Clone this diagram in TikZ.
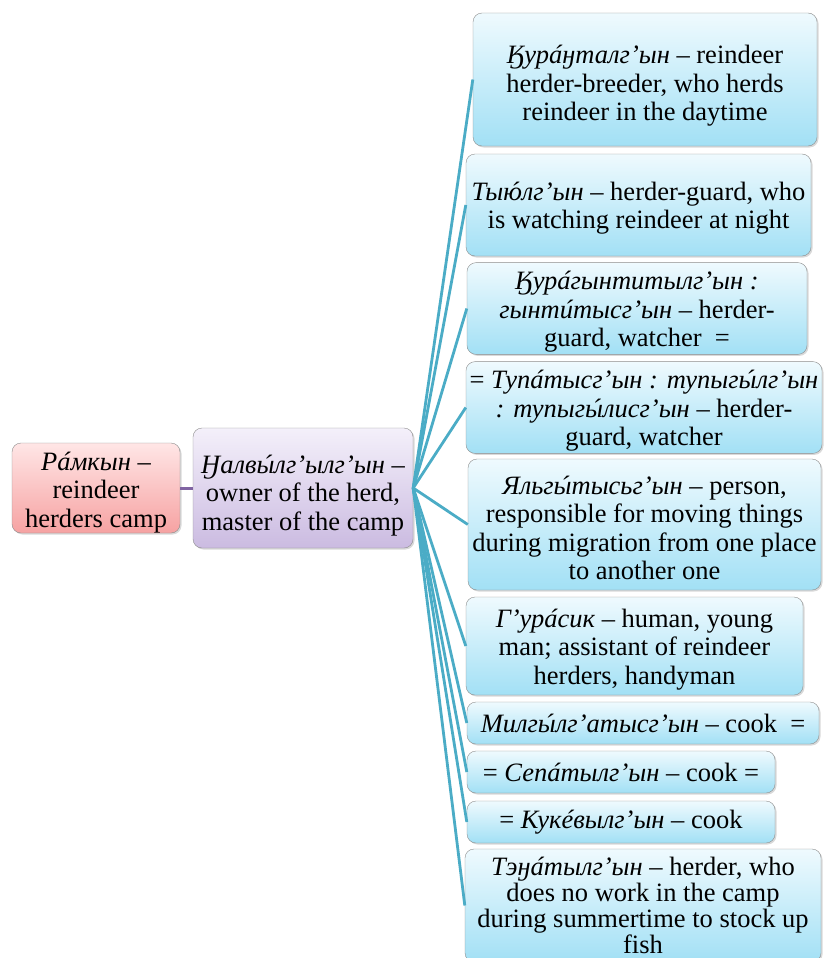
\documentclass[tikz,border=0pt]{standalone}
\usepackage{fontspec}
\setmainfont{Liberation Serif}
\usetikzlibrary{shadows}
\definecolor{feedline}{HTML}{4BACC6}
\definecolor{campline}{HTML}{8064A2}
\definecolor{camptop}{HTML}{FFE6E6}
\definecolor{campbot}{HTML}{F6A2A2}
\definecolor{mastertop}{HTML}{F4F0FA}
\definecolor{masterbot}{HTML}{CBBBE1}
\definecolor{dutytop}{HTML}{EFFAFE}
\definecolor{dutybot}{HTML}{A2E0F5}
% acute stress mark over a letter
\newcommand\ac[1]{{\ooalign{#1\cr\hidewidth\kern.16em\char"00B4\hidewidth\cr}}}
% invisible strut that pushes the text block down a little
\newcommand\topgap[1]{\rule{0pt}{#1}}
\begin{document}
\begin{tikzpicture}[
		x=1pt, y=-1pt,
		box/.style={draw=black!45, rounded corners=9pt, align=center, inner sep=2pt,
				font=\fontsize{26.5}{28.5}\selectfont,
				drop shadow={opacity=0.3, shadow xshift=1.5pt, shadow yshift=-1.5pt}},
		camp/.style={box, top color=camptop, bottom color=campbot},
		master/.style={box, top color=mastertop, bottom color=masterbot},
		duty/.style={box, top color=dutytop, bottom color=dutybot},
		feed/.style={draw=feedline, line width=2.8pt},
		link/.style={draw=campline, line width=3pt}
	]
	\useasboundingbox (0,0) rectangle (823,958);
	\node[camp, inner ysep=0pt, minimum width=168pt, minimum height=90pt] (camp) at (96,488)
		{\topgap{27pt}\textit{Р\ac{а}мкын} –\\reindeer\\herders camp};
	\node[master, minimum width=220pt, minimum height=120pt] (owner) at (303,488)
		{\topgap{33pt}\textit{Ӈалв\ac{ы}лг’ылг’ын} –\\owner of the herd,\\master of the camp};
	\node[duty, minimum width=344pt, minimum height=133pt] (r1) at (645,79.5)
		{\topgap{31pt}\textit{Ӄур\ac{а}ӈталг’ын} – reindeer\\herder-breeder, who herds\\reindeer in the daytime};
	\node[duty, minimum width=345pt, minimum height=102pt] (r2) at (638.5,205)
		{\topgap{25pt}\textit{Ты\ac{ю}лг’ын} – herder-guard, who\\is watching reindeer at night};
	\node[duty, minimum width=340pt, minimum height=91pt] (r3) at (637,308.5)
		{\topgap{25pt}\textit{Ӄур\ac{а}гынтитылг’ын :}\\\textit{гынт\ac{и}тысг’ын} – herder-\\guard, watcher\ \ =};
	\node[duty, minimum width=356pt, minimum height=89pt] (r4) at (644,407.5)
		{\topgap{25pt}= \textit{Туп\ac{а}тысг’ын : тупыг\ac{ы}лг’ын}\\\textit{: тупыг\ac{ы}лисг’ын} – herder-\\guard, watcher};
	\node[duty, minimum width=353pt, minimum height=131pt] (r5) at (644.5,524.5)
		{\topgap{25pt}\textit{Яльг\ac{ы}тысьг’ын} – person,\\responsible for moving things\\during migration from one place\\to another one};
	\node[duty, minimum width=337pt, minimum height=98pt] (r6) at (634.5,646)
		{\topgap{25pt}\textit{Г’ур\ac{а}сик} – human, young\\man; assistant of reindeer\\herders, handyman};
	\node[duty, minimum width=352pt, minimum height=42pt] (r7) at (643,723)
		{\textit{Милг\ac{ы}лг’атысг’ын} – cook\ \ =};
	\node[duty, minimum width=308pt, minimum height=42pt] (r8) at (621,772)
		{= \textit{Сеп\ac{а}тылг’ын} – cook =};
	\node[duty, minimum width=308pt, minimum height=42pt] (r9) at (621,822)
		{= \textit{Кук\ac{е}вылг’ын} – cook};
	\node[duty, minimum width=356pt, minimum height=113pt, font=\fontsize{26.5}{26}\selectfont] (r10) at (643,905.5)
		{\textit{Тэӈ\ac{а}тылг’ын} – herder, who\\does no work in the camp\\during summertime to stock up\\fish};
	% connectors
	\draw[link] (camp.east) -- (owner.west);
	\draw[feed] (owner.east) -- (r1.west);
	\draw[feed] (owner.east) -- (r2.west);
	\draw[feed] (owner.east) -- (r3.west);
	\draw[feed] (owner.east) -- (r4.west);
	\draw[feed] (owner.east) -- (r5.west);
	\draw[feed] (owner.east) -- (r6.west);
	\draw[feed] (owner.east) -- (r7.west);
	\draw[feed] (owner.east) -- (r8.west);
	\draw[feed] (owner.east) -- (r9.west);
	\draw[feed] (owner.east) -- (r10.west);
\end{tikzpicture}
\end{document}
